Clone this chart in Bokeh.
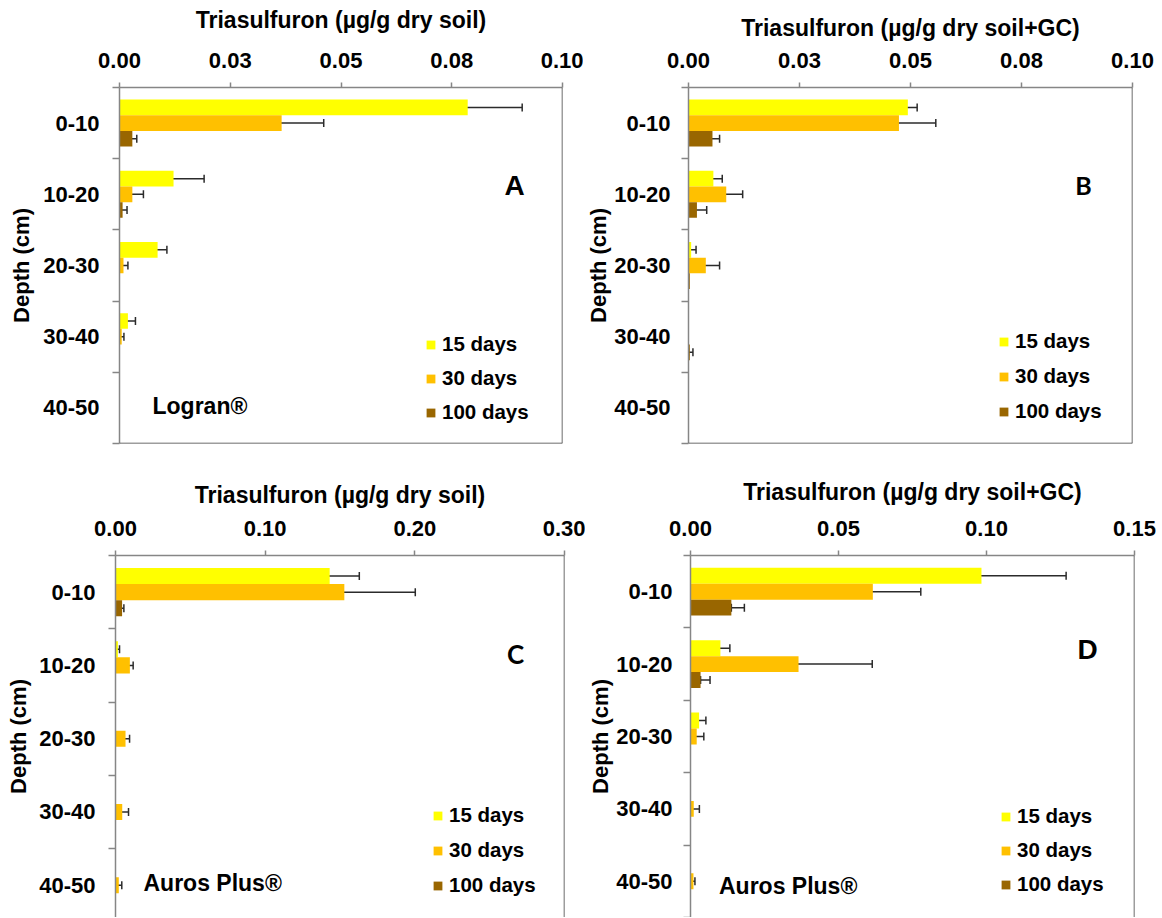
from bokeh.plotting import figure
from bokeh.models import (Range1d, FixedTicker, Whisker, TeeHead, Span,
                          ColumnDataSource, Legend, LegendItem, Label)
from bokeh.transform import dodge
from bokeh.layouts import column, row
from bokeh.embed import file_html
from bokeh.resources import INLINE

# ---------------- data ----------------
depths = ["0-10", "10-20", "20-30", "30-40", "40-50"]
series = ["15 days", "30 days", "100 days"]
colors = ["#FFFF00", "#FFC000", "#996600"]

# Panel A - Logran, soil
A_15 = [0.0786, 0.0122, 0.0086, 0.0019, 0.0]
A_15_err = [0.0123, 0.0069, 0.0021, 0.0017, 0.0]
A_30 = [0.0366, 0.0029, 0.0009, 0.0005, 0.0]
A_30_err = [0.0095, 0.0025, 0.0010, 0.0005, 0.0]
A_100 = [0.0029, 0.0007, 0.0, 0.0, 0.0]
A_100_err = [0.0010, 0.0010, 0.0, 0.0, 0.0]

# Panel B - Logran, soil+GC
B_15 = [0.0494, 0.0056, 0.0006, 0.0, 0.0]
B_15_err = [0.0021, 0.0020, 0.0011, 0.0, 0.0]
B_30 = [0.0474, 0.0085, 0.0039, 0.0, 0.0]
B_30_err = [0.0083, 0.0037, 0.0031, 0.0, 0.0]
B_100 = [0.0054, 0.0019, 0.0003, 0.0003, 0.0]
B_100_err = [0.0016, 0.0022, 0.0, 0.0007, 0.0]

# Panel C - Auros Plus, soil
C_15 = [0.1431, 0.0016, 0.0003, 0.0, 0.0]
C_15_err = [0.0198, 0.0011, 0.0, 0.0, 0.0]
C_30 = [0.1529, 0.0096, 0.0067, 0.0045, 0.0022]
C_30_err = [0.0474, 0.0022, 0.0027, 0.0042, 0.0020]
C_100 = [0.0044, 0.0003, 0.0, 0.0, 0.0]
C_100_err = [0.0012, 0.0, 0.0, 0.0, 0.0]

# Panel D - Auros Plus, soil+GC
D_15 = [0.0983, 0.0101, 0.0029, 0.0, 0.0]
D_15_err = [0.0286, 0.0032, 0.0023, 0.0, 0.0]
D_30 = [0.0616, 0.0365, 0.0021, 0.0011, 0.0010]
D_30_err = [0.0162, 0.0249, 0.0024, 0.0019, 0.0005]
D_100 = [0.0138, 0.0034, 0.0, 0.0, 0.0]
D_100_err = [0.0044, 0.0032, 0.0, 0.0, 0.0]
D_100_err_minus = [0.0, 0.0, 0.0, 0.0, 0.0]   # plus-only error bars

ticks_AB = [0.0, 0.025, 0.05, 0.075, 0.10]
labels_AB = ["0.00", "0.03", "0.05", "0.08", "0.10"]
ticks_C = [0.0, 0.10, 0.20, 0.30]
labels_C = ["0.00", "0.10", "0.20", "0.30"]
ticks_D = [0.0, 0.05, 0.10, 0.15]
labels_D = ["0.00", "0.05", "0.10", "0.15"]

title_soil = "Triasulfuron (µg/g dry soil)"
title_gc = "Triasulfuron (µg/g dry soil+GC)"
ytitle = "Depth (cm)"

FONT = "Liberation Sans"
AXIS_GREY = "#868686"
BORDER = "#3c3c3c"
ERR = "#2b2b2b"
BAR_H = 0.22
OFFSETS = [-BAR_H, 0.0, BAR_H]


def make_panel(width, height, mb, xmax, xticks, xlabels, ystart, title,
               vals, errs_plus, errs_minus, legend_loc, legend_spacing,
               product, product_pos, letter, letter_font, letter_size,
               letter_pos, ytick_standoff, ylab_standoff, xlab_standoff,
               bottom_border):
    left, right, top, bottom = mb
    p = figure(width=width, height=height,
               x_range=Range1d(0, xmax), y_range=Range1d(ystart, -0.5),
               x_axis_location="above", output_backend="svg",
               toolbar_location=None, min_border_left=left,
               min_border_right=right, min_border_top=top,
               min_border_bottom=bottom, outline_line_color=None,
               background_fill_color="white", border_fill_color="white")
    p.xgrid.visible = False
    p.ygrid.visible = False

    # top x axis
    xa = p.xaxis[0]
    xa.ticker = FixedTicker(ticks=xticks)
    xa.major_label_overrides = {t: l for t, l in zip(xticks, xlabels)}
    xa.axis_label = title
    xa.axis_label_text_font = FONT
    xa.axis_label_text_font_style = "bold"
    xa.axis_label_text_font_size = "23px"
    xa.axis_label_text_color = "black"
    xa.axis_label_standoff = xlab_standoff
    xa.major_label_text_font = FONT
    xa.major_label_text_font_style = "bold"
    xa.major_label_text_font_size = "22px"
    xa.major_label_text_color = "black"
    xa.major_label_standoff = 15
    xa.major_tick_in = 0
    xa.major_tick_out = 5
    xa.minor_tick_out = 0
    xa.minor_tick_in = 0
    xa.axis_line_color = AXIS_GREY
    xa.axis_line_width = 1.5
    xa.major_tick_line_color = AXIS_GREY
    xa.major_tick_line_width = 1.5

    # left y axis (categories)
    ya = p.yaxis[0]
    idx = list(range(len(depths)))
    ya.ticker = FixedTicker(ticks=idx,
                            minor_ticks=[i - 0.5 for i in idx] + [len(depths) - 0.5])
    ya.major_label_overrides = {i: d for i, d in zip(idx, depths)}
    ya.axis_label = ytitle
    ya.axis_label_text_font = FONT
    ya.axis_label_text_font_style = "bold"
    ya.axis_label_text_font_size = "22px"
    ya.axis_label_text_color = "black"
    ya.axis_label_standoff = ylab_standoff
    ya.major_label_text_font = FONT
    ya.major_label_text_font_style = "bold"
    ya.major_label_text_font_size = "22px"
    ya.major_label_text_color = "black"
    ya.major_label_standoff = ytick_standoff
    ya.major_tick_in = 0
    ya.major_tick_out = 0
    ya.minor_tick_in = 0
    ya.minor_tick_out = 7
    ya.minor_tick_line_color = AXIS_GREY
    ya.minor_tick_line_width = 1.5
    ya.axis_line_color = AXIS_GREY
    ya.axis_line_width = 1.5

    # right (and bottom) border lines of the plot area
    p.add_layout(Span(location=xmax, dimension="height",
                      line_color=BORDER, line_width=1.5))
    if bottom_border:
        p.add_layout(Span(location=ystart, dimension="width",
                          line_color=BORDER, line_width=1.5))

    items = []
    for k in range(3):
        v = vals[k]
        ep = errs_plus[k]
        em = errs_minus[k]
        src = ColumnDataSource(dict(pos=idx, depth=depths, value=v))
        r = p.hbar(y=dodge("pos", OFFSETS[k], range=p.y_range), left=0,
                   right="value", height=BAR_H, source=src,
                   fill_color=colors[k], line_color=None)
        items.append(LegendItem(label=series[k], renderers=[r]))
        keep = [i for i in idx if ep[i] > 0]
        wsrc = ColumnDataSource(dict(
            pos=[idx[i] for i in keep],
            lower=[max(0.0, v[i] - em[i]) for i in keep],
            upper=[v[i] + ep[i] for i in keep]))
        w = Whisker(source=wsrc, base=dodge("pos", OFFSETS[k], range=p.y_range),
                    lower="lower", upper="upper", dimension="width",
                    line_color=ERR, line_width=1.5,
                    upper_head=TeeHead(size=8, line_color=ERR, line_width=1.5),
                    lower_head=TeeHead(size=8, line_color=ERR, line_width=1.5))
        p.add_layout(w)

    legend = Legend(items=items, location=legend_loc, orientation="vertical",
                    glyph_width=11, glyph_height=11, label_standoff=6,
                    spacing=legend_spacing, padding=0, margin=0,
                    label_text_font=FONT, label_text_font_style="bold",
                    label_text_font_size="20.5px", label_text_color="black",
                    border_line_color=None, background_fill_alpha=0)
    p.add_layout(legend)

    if product:
        p.add_layout(Label(x=product_pos[0], y=product_pos[1], x_units="screen",
                           y_units="screen", text=product, text_font=FONT,
                           text_font_style="bold", text_font_size="23px",
                           text_color="black", text_align="left",
                           text_baseline="alphabetic"))
    p.add_layout(Label(x=letter_pos[0], y=letter_pos[1], x_units="screen",
                       y_units="screen", text=letter, text_font=letter_font,
                       text_font_style="bold", text_font_size=letter_size,
                       text_color="black", text_align="center",
                       text_baseline="alphabetic"))
    return p


# top row: height 468 ; bottom row: height 449
pA = make_panel(583, 468, (119, 21, 85, 25), 0.10, ticks_AB, labels_AB, 4.5,
                title_soil, [A_15, A_30, A_100], [A_15_err, A_30_err, A_100_err],
                [A_15_err, A_30_err, A_100_err], (306, 19), 10,
                "Logran®", (33, 38), "A", FONT, "28px", (395, 258),
                13, 6, 17, True)

pB = make_panel(577, 468, (104, 28, 87, 24), 0.10, ticks_AB, labels_AB, 4.5,
                title_gc, [B_15, B_30, B_100], [B_15_err, B_30_err, B_100_err],
                [B_15_err, B_30_err, B_100_err], (310, 20), 11,
                None, None, "B", "Lato", "25px", (395, 259),
                11, 0, 9, True)

pC = make_panel(585, 449, (115, 21, 87, 0), 0.30, ticks_C, labels_C, 4.44,
                title_soil, [C_15, C_30, C_100], [C_15_err, C_30_err, C_100_err],
                [C_15_err, C_30_err, C_100_err], (317, 20), 11,
                "Auros Plus®", (28, 35), "C", "Lato", "26px", (400, 264),
                13, 5, 10, False)

pD = make_panel(575, 449, (104, 26, 87, 0), 0.15, ticks_D, labels_D, 4.50,
                title_gc, [D_15, D_30, D_100], [D_15_err, D_30_err, D_100_err],
                [D_15_err, D_30_err, D_100_err_minus], (310, 21), 10,
                "Auros Plus®", (28.5, 32), "D", FONT, "28px", (397, 268),
                11, 0, 13, False)

layout = column(row(pA, pB), row(pC, pD))

open("out.html", "w").write(file_html(layout, INLINE))
